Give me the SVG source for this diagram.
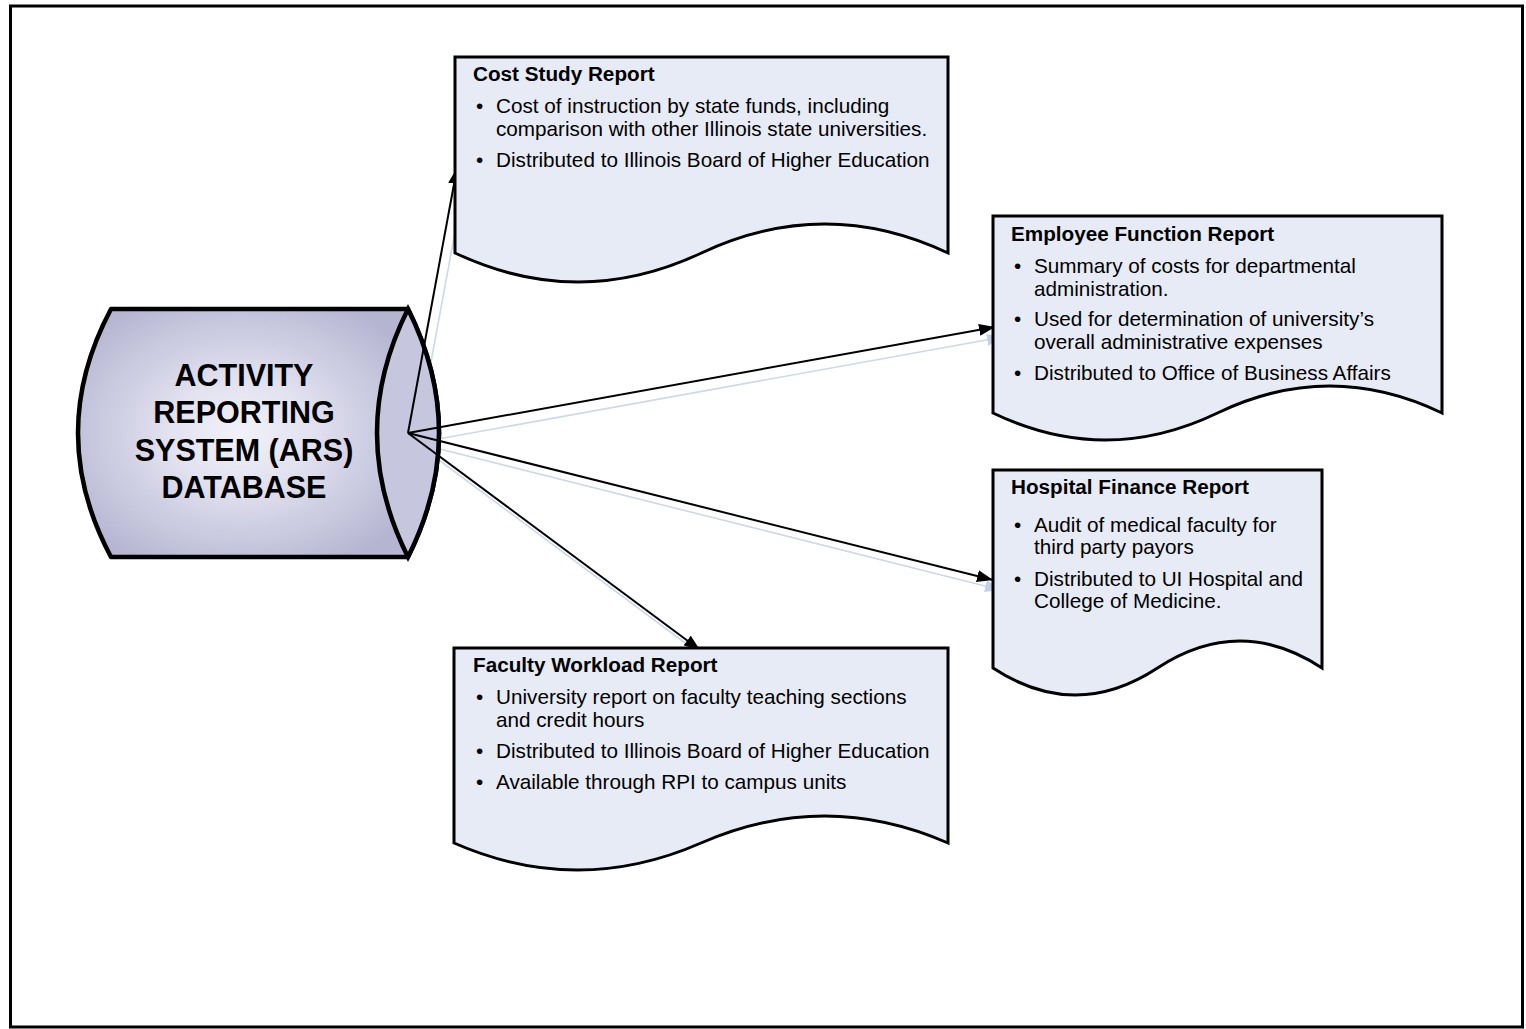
<svg xmlns="http://www.w3.org/2000/svg" width="1526" height="1029" viewBox="0 0 1526 1029">
<defs>
<style>
.doc{fill:#e6ebf5;stroke:#000;stroke-width:3;stroke-linejoin:miter}
.t{font-family:"Liberation Sans",Arial,sans-serif;font-size:20.7px;fill:#000}
.b{font-weight:bold}
.db{font-family:"Liberation Sans",Arial,sans-serif;font-size:30.5px;font-weight:bold;fill:#000;text-anchor:middle}
.arr{stroke:#000;stroke-width:2;fill:none;marker-end:url(#ah)}
.sh{stroke:#cdd8e8;stroke-width:1.6;fill:none;marker-end:url(#ahs)}
</style>
<marker id="ah" markerUnits="userSpaceOnUse" markerWidth="16" markerHeight="12" refX="16" refY="6" orient="auto">
<path d="M0,0 L16,6 L0,12 Z" fill="#000"/>
</marker>
<marker id="ahs" markerUnits="userSpaceOnUse" markerWidth="16" markerHeight="12" refX="16" refY="6" orient="auto">
<path d="M0,0 L16,6 L0,12 Z" fill="#c3d1e6"/>
</marker>
<radialGradient id="cyl" cx="240" cy="433" r="200" gradientUnits="userSpaceOnUse" gradientTransform="translate(240 433) scale(1 0.75) translate(-240 -433)">
<stop offset="0" stop-color="#f2f2f9"/>
<stop offset="0.35" stop-color="#e2e2f0"/>
<stop offset="1" stop-color="#b5b5d2"/>
</radialGradient>
</defs>
<rect x="0" y="0" width="1526" height="1029" fill="#fff"/>
<rect id="frame" x="10.5" y="6" width="1512" height="1021" fill="none" stroke="#000" stroke-width="3"/>

<g id="connectors">
<g transform="translate(8,10)">
<line class="sh" x1="408" y1="433" x2="457" y2="168"/>
<line class="sh" x1="408" y1="433" x2="995" y2="327"/>
<line class="sh" x1="408" y1="433" x2="993" y2="580"/>
<line class="sh" x1="408" y1="433" x2="700" y2="650"/>
</g>
</g>

<g id="database">
<path d="M111,309 L408,309 Q470,433 408,557 L111,557 Q45,433 111,309 Z" fill="url(#cyl)" stroke="#000" stroke-width="4.5" stroke-linejoin="round"/>
<path d="M408,309 Q346,433 408,557 Q470,433 408,309 Z" fill="#c6c6de" stroke="#000" stroke-width="4.5"/>
<text class="db" x="244" y="386">ACTIVITY</text>
<text class="db" x="244" y="423">REPORTING</text>
<text class="db" x="244" y="461">SYSTEM (ARS)</text>
<text class="db" x="244" y="498">DATABASE</text>
</g>

<g id="connectors-main">
<line class="arr" x1="408" y1="433" x2="457" y2="168"/>
<line class="arr" x1="408" y1="433" x2="995" y2="327"/>
<line class="arr" x1="408" y1="433" x2="993" y2="580"/>
<line class="arr" x1="408" y1="433" x2="700" y2="650"/>
</g>

<g id="cost-study">
<path class="doc" d="M455,57 H948 V253 Q824.75,195 701.5,253 T455,253 Z"/>
<text class="t b" x="473" y="81">Cost Study Report</text>
<text class="t" x="476" y="113">•</text>
<text class="t" x="496" y="113">Cost of instruction by state funds, including</text>
<text class="t" x="496" y="136">comparison with other Illinois state universities.</text>
<text class="t" x="476" y="167">•</text>
<text class="t" x="496" y="167">Distributed to Illinois Board of Higher Education</text>
</g>

<g id="employee-function">
<path class="doc" d="M993,216 H1442 V413 Q1329.75,359 1217.5,413 T993,413 Z"/>
<text class="t b" x="1011" y="241">Employee Function Report</text>
<text class="t" x="1014" y="273">•</text>
<text class="t" x="1034" y="273">Summary of costs for departmental</text>
<text class="t" x="1034" y="296">administration.</text>
<text class="t" x="1014" y="326">•</text>
<text class="t" x="1034" y="326">Used for determination of university’s</text>
<text class="t" x="1034" y="349">overall administrative expenses</text>
<text class="t" x="1014" y="380">•</text>
<text class="t" x="1034" y="380">Distributed to Office of Business Affairs</text>
</g>

<g id="hospital-finance">
<path class="doc" d="M993,470 H1322 V668 Q1239.75,614 1157.5,668 T993,668 Z"/>
<text class="t b" x="1011" y="494">Hospital Finance Report</text>
<text class="t" x="1014" y="532">•</text>
<text class="t" x="1034" y="532">Audit of medical faculty for</text>
<text class="t" x="1034" y="554">third party payors</text>
<text class="t" x="1014" y="586">•</text>
<text class="t" x="1034" y="586">Distributed to UI Hospital and</text>
<text class="t" x="1034" y="608">College of Medicine.</text>
</g>

<g id="faculty-workload">
<path class="doc" d="M454,648 H948 V843 Q824.5,789 701,843 T454,843 Z"/>
<text class="t b" x="473" y="672">Faculty Workload Report</text>
<text class="t" x="476" y="704">•</text>
<text class="t" x="496" y="704">University report on faculty teaching sections</text>
<text class="t" x="496" y="727">and credit hours</text>
<text class="t" x="476" y="758">•</text>
<text class="t" x="496" y="758">Distributed to Illinois Board of Higher Education</text>
<text class="t" x="476" y="789">•</text>
<text class="t" x="496" y="789">Available through RPI to campus units</text>
</g>
</svg>
